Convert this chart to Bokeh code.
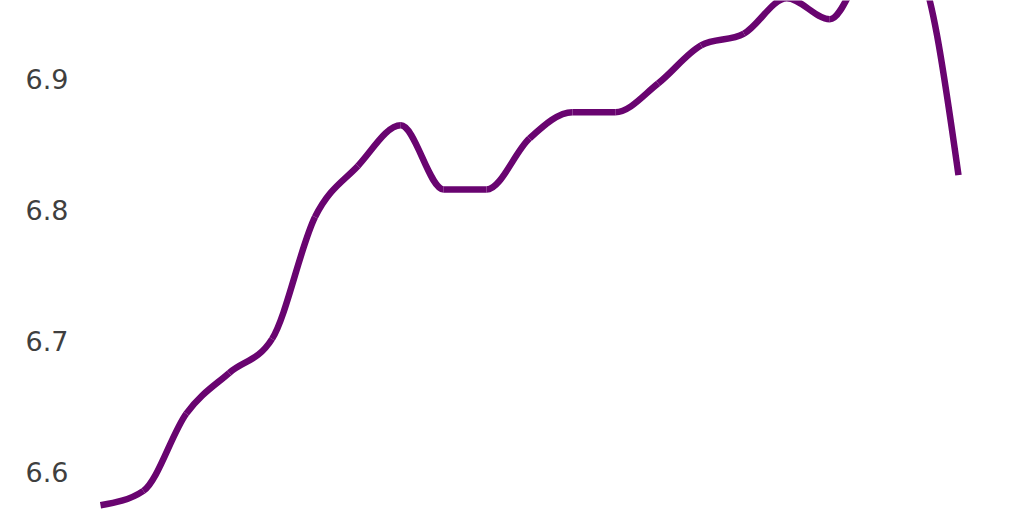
import numpy as np
from bokeh.plotting import figure
from bokeh.models import FixedTicker
from bokeh.embed import file_html
from bokeh.resources import INLINE

# ---- data ----
x_idx = list(range(21))
values = [6.575, 6.586, 6.645, 6.676, 6.702, 6.795, 6.834, 6.865, 6.816, 6.816,
          6.855, 6.875, 6.875, 6.897, 6.926, 6.935, 6.962, 6.946, 6.990, 6.985, 6.827]
y_ticks = [6.6, 6.7, 6.8, 6.9]

LINE_COLOR = "#690470"
LABEL_COLOR = "#3f3f3f"

# ---- monotone-x cubic (same construction as d3.curveMonotoneX) ----
xs = np.array(x_idx, dtype=float)
ys = np.array(values, dtype=float)
n = len(xs)
h = np.diff(xs)
s = np.diff(ys) / h
t = np.zeros(n)
for i in range(1, n - 1):
    s0, s1 = s[i - 1], s[i]
    p = (s0 * h[i] + s1 * h[i - 1]) / (h[i - 1] + h[i])
    sg = (1 if s0 >= 0 else -1) + (1 if s1 >= 0 else -1)
    t[i] = sg * min(abs(s0), abs(s1), 0.5 * abs(p))
t[0] = (3 * s[0] - t[1]) / 2
t[-1] = (3 * s[-1] - t[-2]) / 2

dx = h / 3.0
x0 = xs[:-1]; y0 = ys[:-1]
x1 = xs[1:]; y1 = ys[1:]
cx0 = x0 + dx; cy0 = y0 + dx * t[:-1]
cx1 = x1 - dx; cy1 = y1 - dx * t[1:]

# ---- figure ----
H = 512
p = figure(width=1008, height=H, output_backend="svg", toolbar_location=None,
           x_range=(-0.466, 21.166), y_range=(6.9603 - H / 1310.0, 6.9603),
           min_border_left=80, min_border_right=0, min_border_top=0, min_border_bottom=0)
p.outline_line_color = None
p.background_fill_color = "white"
p.border_fill_color = "white"
p.xgrid.visible = False
p.ygrid.visible = False
p.xaxis.visible = False

ya = p.yaxis[0]
ya.ticker = FixedTicker(ticks=y_ticks, minor_ticks=[])
ya.major_label_overrides = {v: f"{v:.1f}" for v in y_ticks}
ya.axis_line_color = None
ya.major_tick_line_color = None
ya.minor_tick_line_color = None
ya.major_tick_out = 0
ya.major_label_standoff = 12
ya.major_label_text_font = "DejaVu Sans"
ya.major_label_text_font_size = "27px"
ya.major_label_text_color = LABEL_COLOR

p.bezier(x0=x0, y0=y0, x1=x1, y1=y1, cx0=cx0, cy0=cy0, cx1=cx1, cy1=cy1,
         line_color=LINE_COLOR, line_width=6.5, line_cap="butt")

open("out.html", "w").write(file_html(p, INLINE))
